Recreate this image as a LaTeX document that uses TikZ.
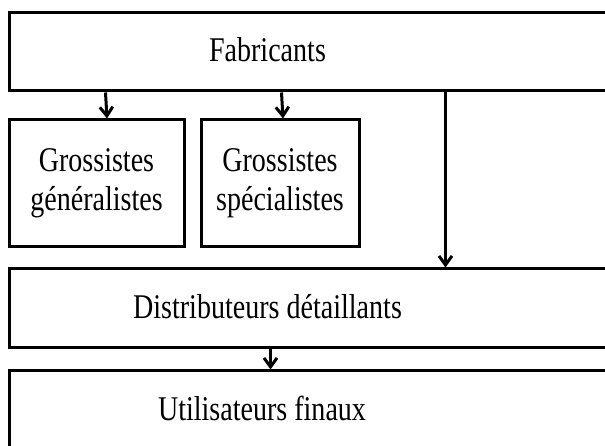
\documentclass[tikz,border=0pt]{standalone}
\usepackage{fontspec}
\setmainfont{Liberation Serif}
\usepackage{graphicx}
\usepackage{tikz}
\usetikzlibrary{arrows.meta,positioning}

\newcommand{\tallt}[1]{\scalebox{1.02}[1.26]{#1}}

\tikzset{
    box/.style={draw, rectangle, line width=3pt, inner sep=0pt},
    lbl/.style={font=\fontsize{27.5}{39}\selectfont, align=center, inner sep=0pt},
    flow/.style={line width=3pt, -{Straight Barb[length=9pt,width=13pt]}}
}

\begin{document}
\begin{tikzpicture}[x=1pt,y=1pt]
    \useasboundingbox (0,0) rectangle (605,446);
    \clip (0,0) rectangle (605,446);
    \fill[white] (0,0) rectangle (605,446);

    \node[box, minimum width=631pt, minimum height=78pt] (fab) at (324.5,394) {};
    \node[box, minimum width=175pt, minimum height=127pt] (gg) at (96.5,262.5) {};
    \node[box, minimum width=158pt, minimum height=127pt] (gs) at (280,262.5) {};
    \node[box, minimum width=631pt, minimum height=79pt] (dist) at (324.5,137.5) {};
    \node[box, minimum width=631pt, minimum height=110pt] (util) at (324.5,20) {};

    \node[lbl] (fabtxt) at (267.5,396) {\tallt{Fabricants}};
    \node[lbl] (ggtxt) at (gg) {\tallt{Grossistes}\\\tallt{généralistes}};
    \node[lbl] (gstxt) at (gs) {\tallt{Grossistes}\\\tallt{spécialistes}};
    \node[lbl] (disttxt) at (267.5,139) {\tallt{Distributeurs détaillants}};
    \node[lbl] (utiltxt) at (262,38) {\tallt{Utilisateurs finaux}};

    \draw[flow] ([xshift=98pt]fab.south west) -- ([xshift=10.5pt]gg.north);
    \draw[flow] ([xshift=274pt]fab.south west) -- ([xshift=3pt]gs.north);
    \draw[flow] ([xshift=438pt]fab.south west) -- ([xshift=438pt]dist.north west);
    \draw[flow] ([xshift=263pt]dist.south west) -- ([xshift=263pt]util.north west);
\end{tikzpicture}
\end{document}
